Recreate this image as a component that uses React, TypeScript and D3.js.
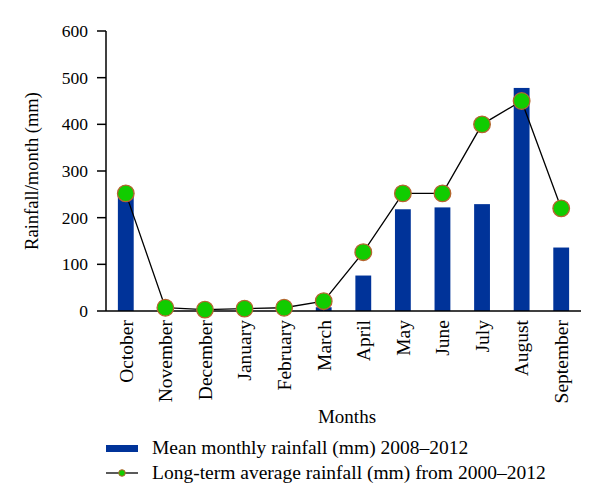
import React from "react";
import * as d3 from "d3";

const months = ["October","November","December","January","February","March","April","May","June","July","August","September"];
const meanRain = [248, 0, 0, 0, 0, 8, 76, 218, 222, 229, 478, 136];
const longTerm = [252, 7, 3, 5, 7, 21, 126, 252, 252, 400, 450, 220];
const yTicks = [0, 100, 200, 300, 400, 500, 600];

const W = 600, H = 504;
const left = 106, right = 581, top = 31, bottom = 311;
const FONT = "'Liberation Serif', 'DejaVu Serif', serif";

export default function App() {
  const x = d3.scaleBand<string>().domain(months).range([left, right]).paddingInner(0).paddingOuter(0);
  const y = d3.scaleLinear().domain([0, 600]).range([bottom, top]);
  const barW = x.bandwidth() * 0.4;
  const cx = (m: string) => (x(m) as number) + x.bandwidth() / 2;
  const line = d3.line<number>().x((_, i) => cx(months[i])).y((d) => y(d));
  return (
    <svg width={W} height={H} style={{ position: "absolute", left: 0, top: 0 }} fontFamily={FONT}>
      <rect width={W} height={H} fill="#fff" />
      {months.map((m, i) => (
        <rect key={m} x={cx(m) - barW / 2} y={y(meanRain[i])} width={barW} height={bottom - y(meanRain[i])} fill="#003399" />
      ))}
      <line x1={left} x2={left} y1={top} y2={bottom} stroke="#000" strokeWidth={1.5} />
      <line x1={left} x2={right} y1={bottom} y2={bottom} stroke="#000" strokeWidth={1.5} />
      {yTicks.map((t) => (
        <g key={t}>
          <line x1={left - 9} x2={left} y1={y(t)} y2={y(t)} stroke="#000" strokeWidth={1.5} />
          <text x={left - 18} y={y(t)} dy="0.35em" textAnchor="end" fontSize={17.5}>{t}</text>
        </g>
      ))}
      <path d={line(longTerm) || ""} fill="none" stroke="#000" strokeWidth={1.3} />
      {months.map((m, i) => (
        <circle key={m} cx={cx(m)} cy={y(longTerm[i])} r={8.3} fill="#11cc00" stroke="#b5652f" strokeWidth={1.3} />
      ))}
      {months.map((m) => (
        <text key={m} transform={`translate(${cx(m)},${bottom + 9}) rotate(-90)`} textAnchor="end" dy="0.35em" fontSize={19.5}>{m}</text>
      ))}
      <text transform={`translate(32,${(top + bottom) / 2}) rotate(-90)`} textAnchor="middle" dy="0.35em" fontSize={18.5}>Rainfall/month (mm)</text>
      <text x={347} y={423} textAnchor="middle" fontSize={19}>Months</text>
      <rect x={106} y={445} width={32} height={7} fill="#003399" />
      <text x={152} y={454} fontSize={19.5}>Mean monthly rainfall (mm) 2008–2012</text>
      <line x1={106} x2={138} y1={473} y2={473} stroke="#000" strokeWidth={1.3} />
      <circle cx={122} cy={473} r={3.3} fill="#11cc00" stroke="#b5652f" strokeWidth={1} />
      <text x={152} y={479} fontSize={19.5}>Long-term average rainfall (mm) from 2000–2012</text>
    </svg>
  );
}
